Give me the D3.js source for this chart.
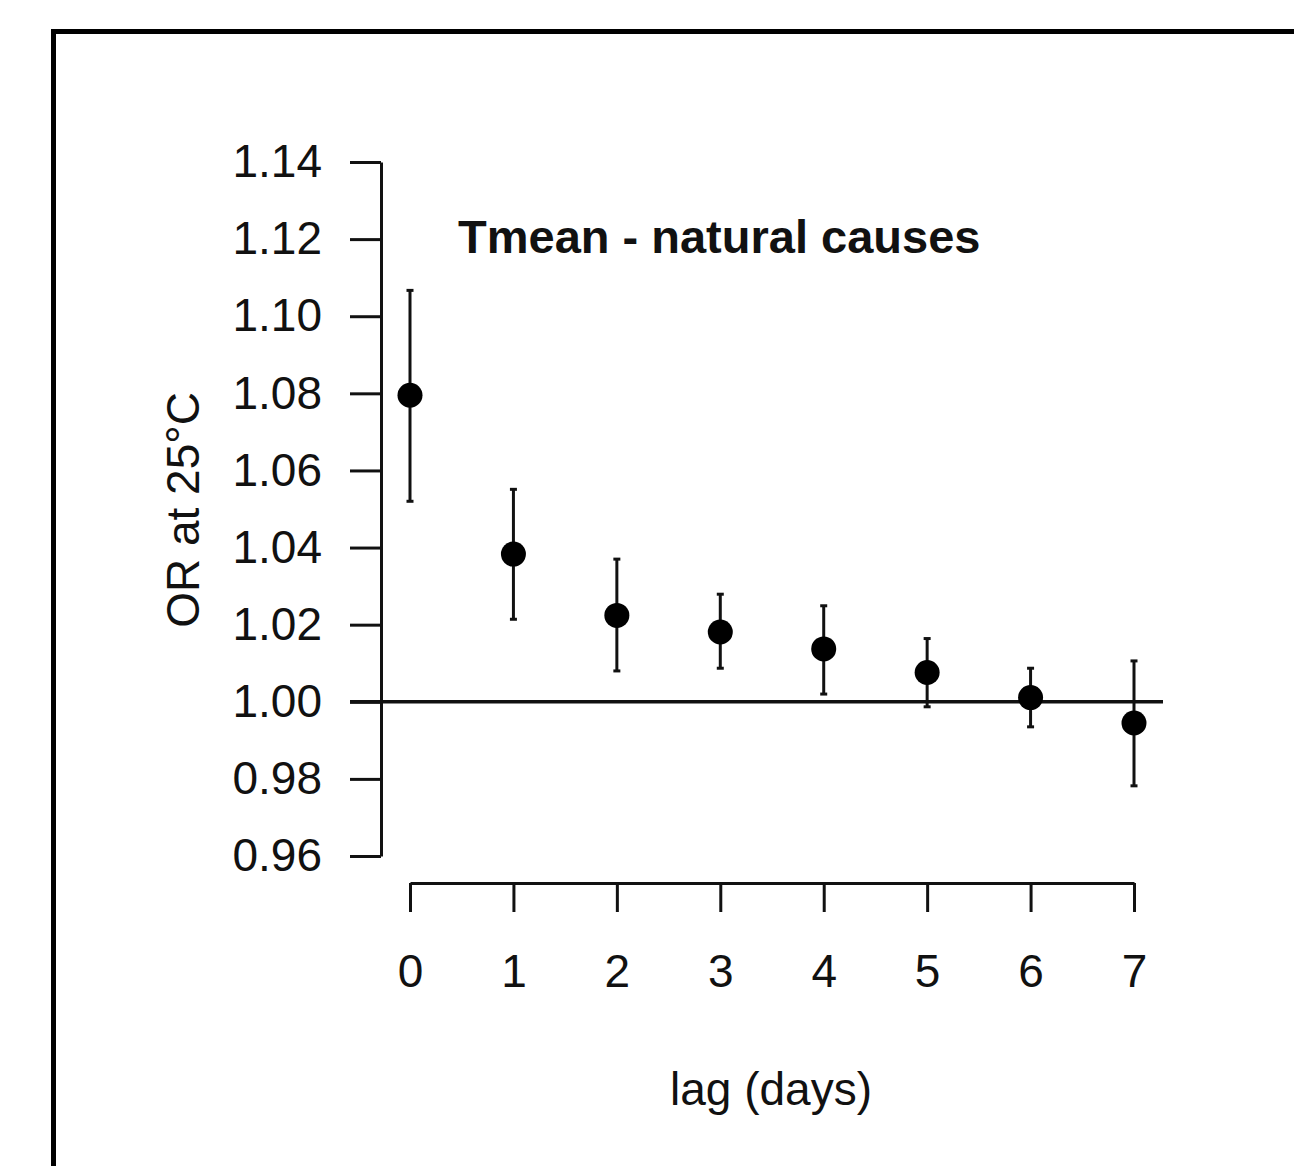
<!DOCTYPE html>
<html>
<head>
<meta charset="utf-8">
<script src="https://cdn.jsdelivr.net/npm/d3@7"></script>
<style>
  body { margin: 0; background: #fff; }
  text { font-family: "Liberation Sans", Arial, sans-serif; fill: #111; }
</style>
</head>
<body>
<script>
// lag days and odds ratios
var lags = [0, 1, 2, 3, 4, 5, 6, 7];
var orEst = [1.0795, 1.0383, 1.0224, 1.0181, 1.0137, 1.0076, 1.0011, 0.9945];
var orLow = [1.0520, 1.0214, 1.0080, 1.0087, 1.0020, 0.9987, 0.9935, 0.9782];
var orHigh = [1.1067, 1.0551, 1.0370, 1.0279, 1.0249, 1.0164, 1.0087, 1.0106];
var yTicks = [0.96, 0.98, 1.00, 1.02, 1.04, 1.06, 1.08, 1.10, 1.12, 1.14];

var W = 1294, H = 1166;

var svg = d3.select("body").append("svg")
    .attr("width", W)
    .attr("height", H);

// outer frame (runs off the right and bottom edges)
svg.append("rect")
    .attr("x", 53.5).attr("y", 31.5)
    .attr("width", 1400).attr("height", 1300)
    .attr("fill", "none")
    .attr("stroke", "#000")
    .attr("stroke-width", 5);

var x = d3.scaleLinear().domain([0, 7]).range([410, 1134]);
var y = d3.scaleLinear().domain([0.96, 1.14]).range([856, 162]);

// y axis, R style: ticks to the left, labels further out
var yAxis = d3.axisLeft(y)
    .tickValues(yTicks)
    .tickFormat(d3.format(".2f"))
    .tickSizeInner(31)
    .tickSizeOuter(0)
    .tickPadding(28);

var gy = svg.append("g")
    .attr("transform", "translate(381,0)")
    .call(yAxis);
gy.select(".domain").attr("stroke", "#111").attr("stroke-width", 3);
gy.selectAll(".tick line").attr("stroke", "#111").attr("stroke-width", 3);
gy.selectAll(".tick text")
    .style("font-size", "46px")
    .attr("fill", "#111");

// x axis sits below, detached from the plot
var xAxis = d3.axisBottom(x)
    .tickValues(lags)
    .tickFormat(d3.format("d"))
    .tickSizeInner(29)
    .tickSizeOuter(0)
    .tickPadding(42);

var gx = svg.append("g")
    .attr("transform", "translate(0,883)")
    .call(xAxis);
gx.select(".domain").attr("stroke", "#111").attr("stroke-width", 3);
gx.selectAll(".tick line").attr("stroke", "#111").attr("stroke-width", 3);
gx.selectAll(".tick text")
    .style("font-size", "46px")
    .attr("fill", "#111");

// reference line at OR = 1
svg.append("line")
    .attr("x1", 350).attr("x2", 1163)
    .attr("y1", y(1)).attr("y2", y(1))
    .attr("stroke", "#111")
    .attr("stroke-width", 3.5);

var data = lags.map(function(d, i) {
    return {lag: d, est: orEst[i], lo: orLow[i], hi: orHigh[i]};
});

// error bars
svg.selectAll(".ci").data(data)
  .enter().append("line")
    .attr("class", "ci")
    .attr("x1", function(d) { return x(d.lag); })
    .attr("x2", function(d) { return x(d.lag); })
    .attr("y1", function(d) { return y(d.lo); })
    .attr("y2", function(d) { return y(d.hi); })
    .attr("stroke", "#111")
    .attr("stroke-width", 3);

// caps
["lo", "hi"].forEach(function(k) {
    svg.selectAll(".cap-" + k).data(data)
      .enter().append("line")
        .attr("class", "cap-" + k)
        .attr("x1", function(d) { return x(d.lag) - 3.5; })
        .attr("x2", function(d) { return x(d.lag) + 3.5; })
        .attr("y1", function(d) { return y(d[k]); })
        .attr("y2", function(d) { return y(d[k]); })
        .attr("stroke", "#111")
        .attr("stroke-width", 3);
});

// point estimates
svg.selectAll(".pt").data(data)
  .enter().append("circle")
    .attr("class", "pt")
    .attr("cx", function(d) { return x(d.lag); })
    .attr("cy", function(d) { return y(d.est); })
    .attr("r", 12.5)
    .attr("fill", "#000");

// title inside the plot
svg.append("text")
    .attr("x", 458).attr("y", 253)
    .style("font-size", "47px")
    .style("font-weight", "bold")
    .text("Tmean - natural causes");

// axis titles
svg.append("text")
    .attr("transform", "translate(199,510) rotate(-90)")
    .attr("text-anchor", "middle")
    .style("font-size", "46px")
    .text("OR at 25°C");

svg.append("text")
    .attr("x", 771).attr("y", 1105)
    .attr("text-anchor", "middle")
    .style("font-size", "46px")
    .text("lag (days)");
</script>
</body>
</html>
